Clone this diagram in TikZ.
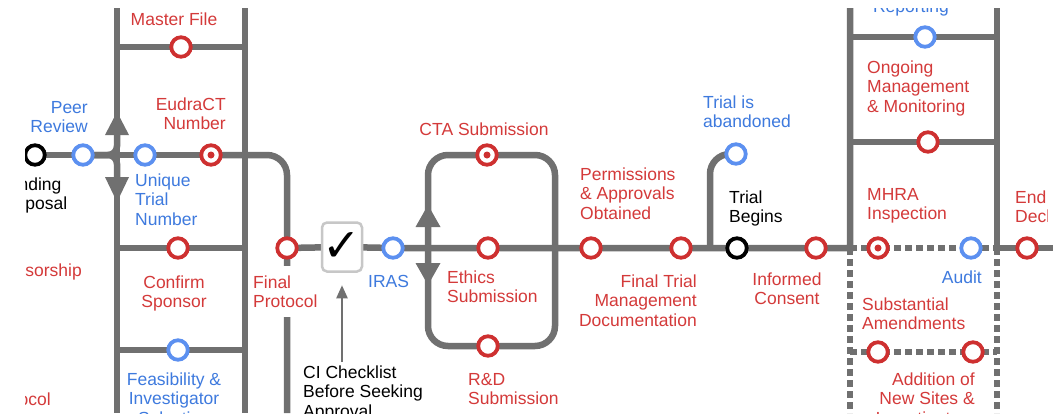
\documentclass[tikz,border=0pt]{standalone}
\usepackage{fontspec}
\usetikzlibrary{backgrounds,arrows.meta}
\newfontfamily\lbfamily{Liberation Sans}
\newfontfamily\symfamily{DejaVu Sans}
\definecolor{trk}{RGB}{112,112,112}
\definecolor{cred}{RGB}{206,48,48}
\definecolor{cblue}{RGB}{92,144,240}
\definecolor{tred}{RGB}{212,58,58}
\definecolor{tblue}{RGB}{62,122,222}
\newcommand\tp{\rule{0pt}{13pt}}
\begin{document}
\begin{tikzpicture}[x=1pt,y=-1pt,
  track/.style={draw=trk, line width=6.5pt},
  dtrack/.style={track, dash pattern=on 7pt off 4pt},
  stn/.style={circle, line width=3.8pt, fill=white, minimum size=19.5pt, inner sep=0pt},
  rst/.style={stn, draw=cred},
  bst/.style={stn, draw=cblue},
  kst/.style={stn, draw=black},
  dst/.style={rst, path picture={\fill[cred] (path picture bounding box.center) circle[radius=3.5pt];}},
  lbl/.style={inner sep=0pt, font={\lbfamily\fontsize{17.5}{19.7}\selectfont}},
  rlab/.style={lbl, text=tred},
  blab/.style={lbl, text=tblue},
  klab/.style={lbl, text=black},
]
\useasboundingbox (0,0) rectangle (1053,413);
\begin{pgfonlayer}{background}
\fill[white] (0,0) rectangle (1053,413);
\end{pgfonlayer}
% free ends of the rails
\coordinate (llt) at (117,8); \coordinate (llb) at (117,413);
\coordinate (lrt) at (245,8); \coordinate (lrb) at (245,413);
\coordinate (fpb) at (287,413);
\coordinate (lp1) at (428,155); \coordinate (lp2) at (555,346);
\coordinate (br) at (710,248);
\coordinate (rlt) at (850,8); \coordinate (rlb) at (850,248); \coordinate (rlz) at (850,413);
\coordinate (rrt) at (997,8); \coordinate (rrb) at (997,248); \coordinate (rrz) at (997,413);
\coordinate (rend) at (1053,248);

\begin{scope}
\clip (25,8) rectangle (1047,413);
% stations
\node[kst] (fund) at (35,155) {};
\node[bst] (peer) at (83,155) {};
\node[bst] (utn) at (145,155) {};
\node[dst] (eud) at (211,155) {};
\node[rst] (mf) at (181,47) {};
\node[rst] (cs) at (178,248) {};
\node[bst] (feas) at (178,350) {};
\node[rst] (fp) at (287,248) {};
\node[draw=black!22, line width=2.5pt, fill=white, rounded corners=5pt, minimum width=40pt, minimum height=49pt, inner sep=0pt] (chk) at (342,247) {\symfamily\fontsize{46}{46}\selectfont ✓};
\node[bst] (iras) at (393,248) {};
\node[dst] (cta) at (487,155) {};
\node[rst] (eth) at (488,248) {};
\node[rst] (rdsub) at (488,346) {};
\node[rst] (perm) at (591,248) {};
\node[rst] (ftmd) at (681,248) {};
\node[bst] (aband) at (736,154) {};
\node[kst] (tbeg) at (737,248) {};
\node[rst] (ic) at (816,248) {};
\node[bst] (rep) at (925,37) {};
\node[rst] (omm) at (928,142) {};
\node[dst] (mhra) at (878,248) {};
\node[bst] (audit) at (971,248) {};
\node[rst] (subst) at (878,352) {};
\node[rst] (addn) at (973,352) {};
\node[rst] (eot) at (1027,248) {};
% labels
\node[klab, align=left, anchor=north west] (fundl) at (-2,177) {\tp Funding\\Proposal};
\node[blab, align=right, anchor=north east] (peerl) at (88,100) {\tp Peer\\Review};
\node[rlab, anchor=base] (mfl) at (174,25) {Master File};
\node[rlab, align=right, anchor=north east] (eudl) at (226,97) {\tp EudraCT\\Number};
\node[blab, align=left, anchor=north west] (utnl) at (135,173) {\tp Unique\\Trial\\Number};
\node[rlab, align=center, anchor=north] (csl) at (174,275) {\tp Confirm\\Sponsor};
\node[blab, align=center, anchor=north] (feasl) at (174,372) {\tp Feasibility \&\\Investigator\\Selection};
\node[rlab, anchor=base east] (spl) at (82,276) {Sponsorship};
\node[rlab, anchor=base east] (prl) at (51,405) {Protocol};
\node[rlab, align=left, anchor=north west, fill=white, inner ysep=9pt, inner xsep=1pt] (fpl) at (252,266) {\tp Final\\Protocol};
\node[blab, anchor=base west] (irasl) at (368,287) {IRAS};
\node[rlab, anchor=base] (ctal) at (484,135) {CTA Submission};
\node[rlab, align=left, anchor=north west] (ethl) at (447,270) {\tp Ethics\\Submission};
\node[rlab, align=left, anchor=north west] (rdl) at (468,372) {\tp R\&D\\Submission};
\node[klab, align=left, anchor=north west] (cil) at (303,365) {\tp CI Checklist\\Before Seeking\\Approval};
\node[rlab, align=left, anchor=north west] (perml) at (580,167) {\tp Permissions\\\& Approvals\\Obtained};
\node[rlab, align=right, anchor=north east] (ftmdl) at (697,274) {\tp Final Trial\\Management\hspace{3pt}\\Documentation\hspace{5pt}};
\node[blab, align=left, anchor=north west] (abl) at (703,95) {\tp Trial is\\abandoned};
\node[klab, align=left, anchor=north west] (tbl) at (729,190) {\tp Trial\\Begins};
\node[rlab, align=center, anchor=north] (icl) at (787,272) {\tp Informed\\Consent};
\node[blab, anchor=base] (repl) at (911,12) {Reporting};
\node[rlab, align=left, anchor=north west] (omml) at (867,60) {\tp Ongoing\\Management\\\& Monitoring};
\node[rlab, align=left, anchor=north west] (mhral) at (867,187) {\tp MHRA\\Inspection};
\node[blab, anchor=base east] (auditl) at (982,283) {Audit};
\node[rlab, align=left, anchor=north west] (subl) at (862,297) {\tp Substantial\\Amendments};
\node[rlab, align=right, anchor=north east] (addl) at (975,372) {\tp Addition of\\New Sites \&\\Investigators};
\node[rlab, align=left, anchor=north west] (eotl) at (1015,190) {\tp End of Trial\\Declaration};
\end{scope}

\begin{pgfonlayer}{background}
% left ladder
\draw[track] (llt) -- (llb);
\draw[track] (lrt) -- (lrb);
\draw[track] (mf.center -| llt) -- (mf.center) -- (mf.center -| lrt);
\draw[track] (cs.center -| llt) -- (cs.center) -- (cs.center -| lrt);
\draw[track] (feas.center -| llt) -- (feas.center) -- (feas.center -| lrt);
\draw[track] (fund.center) -- (peer.center);
\draw[track, rounded corners=9pt] (peer.center) -- (peer.center -| llt) -- ++(0,-22);
\draw[track, rounded corners=9pt] (peer.center) -- (peer.center -| llt) -- ++(0,22);
\draw[track] (peer.center -| llt) -- (utn.center) -- (eud.center);
\draw[track, rounded corners=20pt] (eud.center) -| (fpb);
% main line
\draw[track] (fp.center) -- (chk.center) -- (iras.center) -- (eth.center) -- (perm.center) -- (ftmd.center) -- (tbeg.center) -- (ic.center) -- (rlb) -- (rlt);
\draw[track, rounded corners=20pt] (lp1) rectangle (lp2);
\draw[track, rounded corners=20pt] (br) |- (aband.center);
% right ladder
\draw[track] (rrt) -- (rrb) -- (eot.center) -- (rend);
\draw[track] (rep.center -| rlt) -- (rep.center) -- (rep.center -| rrt);
\draw[track] (omm.center -| rlt) -- (omm.center) -- (omm.center -| rrt);
\draw[dtrack] (rlb) -- (mhra.center) -- (audit.center) -- (rrb);
\draw[dtrack] (rlb) -- (rlz);
\draw[dtrack] (rrb) -- (rrz);
\draw[dtrack] (subst.center -| rlb) -- (subst.center) -- (addn.center) -- (addn.center -| rrb);
\end{pgfonlayer}

% direction arrows on the tracks
\fill[trk] (105,135) -- (117,112) -- (129,135) -- cycle;
\fill[trk] (105,177) -- (117,202) -- (129,177) -- cycle;
\fill[trk] (415.5,227) -- (428,205) -- (440.5,227) -- cycle;
\fill[trk] (415.5,263) -- (428,285) -- (440.5,263) -- cycle;
% checklist pointer
\draw[draw=trk, line width=2.2pt, shorten <=3pt, shorten >=12.5pt, -{Triangle[width=11pt,length=13pt]}] (cil.north -| chk.south) -- (chk.south);
\end{tikzpicture}
\end{document}
